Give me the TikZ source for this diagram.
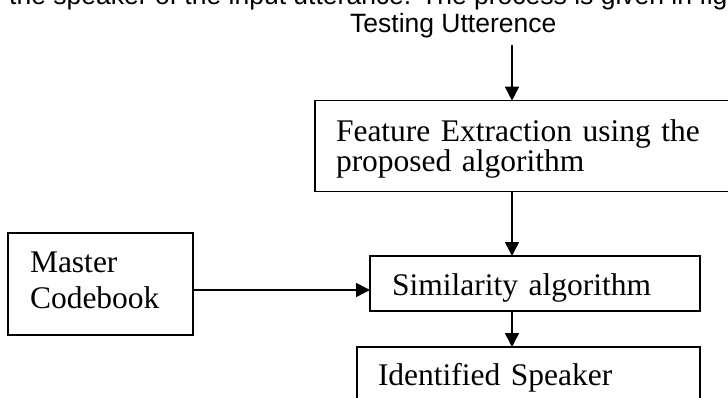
\documentclass[tikz,border=0pt]{standalone}
\usepackage{fontspec}
\setmainfont{Liberation Serif}
\setsansfont{Liberation Sans}
\usetikzlibrary{arrows.meta}

\tikzset{
  blockbox/.style={draw, line width=1.5pt, anchor=north west, outer sep=0pt,
    align=left, font=\fontsize{31.5}{36}\selectfont},
  flow/.style={line width=1.5pt, -{Triangle[length=14pt,width=14pt]}},
  sanslabel/.style={anchor=base west, inner sep=0pt,
    font=\sffamily\fontsize{26.5}{30}\selectfont}
}

\begin{document}
\begin{tikzpicture}[x=1pt,y=-1pt]
  \useasboundingbox (0,0) rectangle (728,398);
  \clip (0,0) rectangle (728,398);
  \node[sanslabel] (para) at (9,4.5)
    {the speaker of the input utterance. The process is given in figure};
  \node[sanslabel] (testing) at (350,33) {Testing Utterence};
  \coordinate (input) at (512,45);
  \node[blockbox, text width=388pt, inner xsep=21pt, minimum height=91pt,
    font=\fontsize{31.5}{28}\selectfont] (feature) at (315,100.7)
    {\rule{0pt}{28pt}Feature Extraction using the\\proposed algorithm};
  \node[blockbox, text width=141pt, inner xsep=22pt, minimum height=102pt]
    (master) at (8,233) {Master\\Codebook\rule[-8pt]{0pt}{8pt}};
  \node[blockbox, text width=286pt, inner xsep=22pt, minimum height=55pt,
    text height=23pt, text depth=0pt] (sim) at (370,256)
    {Similarity algorithm};
  \node[blockbox, text width=301pt, inner xsep=21pt, minimum height=53pt,
    text height=23pt, text depth=0pt] (ident) at (357,347)
    {Identified Speaker};
  \coordinate (mastout) at ([yshift=-6pt]master.east);
  \draw[flow] (input) -- (input |- feature.north);
  \draw[flow] (input |- feature.south) -- (input |- sim.north);
  \draw[flow] (mastout) -- (mastout -| sim.west);
  \draw[flow] (input |- sim.south) -- (input |- ident.north);
\end{tikzpicture}
\end{document}
